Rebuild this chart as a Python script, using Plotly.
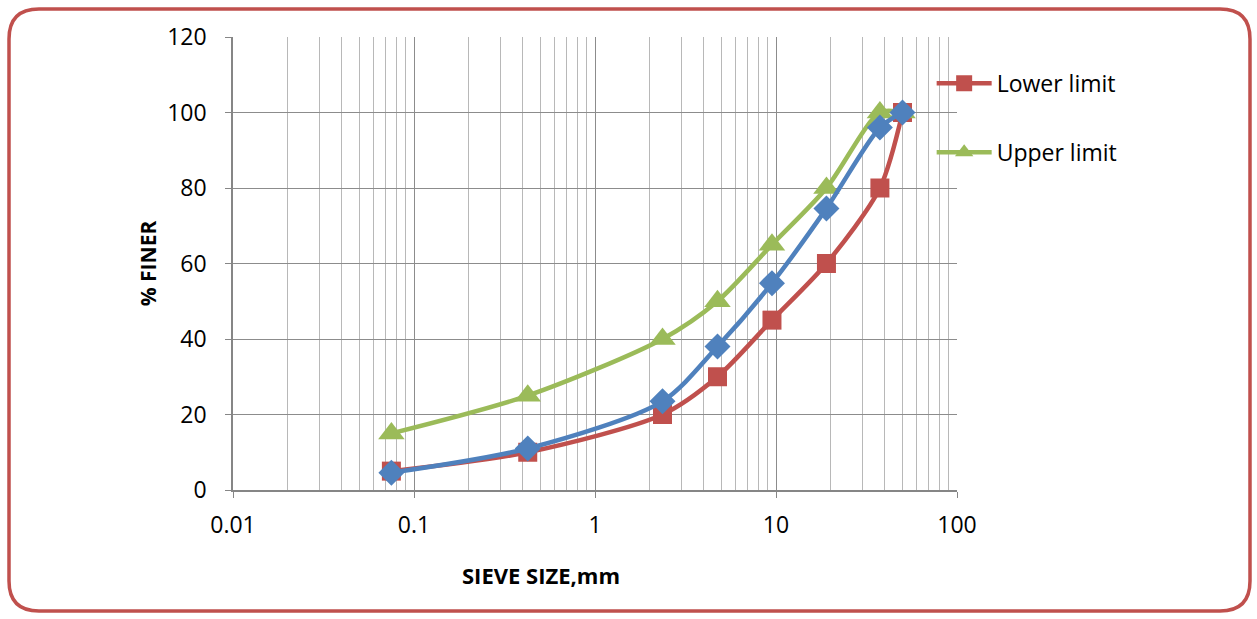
import plotly.graph_objects as go

# Sieve analysis: grading envelope and measured curve
sieve_mm = [0.075, 0.425, 2.36, 4.75, 9.5, 19, 37.5, 50]
lower_limit = [5, 10, 20, 30, 45, 60, 80, 100]
upper_limit = [15, 25, 40, 50, 65, 80, 100, 100]
sample = [4.6, 11, 23.5, 38, 54.8, 74.6, 96, 100]

x_tickvals = [0.01, 0.1, 1, 10, 100]
x_ticktext = ["0.01", "0.1", "1", "10", "100"]
y_tickvals = [0, 20, 40, 60, 80, 100, 120]

RED = "#C0504D"
GREEN = "#9BBB59"
BLUE = "#4F81BD"
FONT = "Open Sans"

W, H = 1257, 619
L, R, T, B = 233, 957, 37, 490  # plot area in pixels

fig = go.Figure()
fig.add_trace(go.Scatter(
    x=sieve_mm, y=lower_limit, name="Lower limit", mode="lines+markers",
    line=dict(color=RED, width=4.5, shape="spline", smoothing=0.8),
    marker=dict(symbol="square", size=19, color=RED),
    legendgroup="a",
))
fig.add_trace(go.Scatter(
    x=sieve_mm, y=upper_limit, name="Upper limit", mode="lines+markers",
    line=dict(color=GREEN, width=4.5, shape="spline", smoothing=0.8),
    marker=dict(symbol="triangle-up", size=23, color=GREEN),
    legendgroup="b",
))
fig.add_trace(go.Scatter(
    x=sieve_mm, y=sample, name="Sample", mode="lines+markers",
    line=dict(color=BLUE, width=4.5, shape="spline", smoothing=0.8),
    marker=dict(symbol="diamond", size=20, color=BLUE),
    showlegend=False,
))

# Rounded outer frame drawn in paper coordinates
def px(xp):
    return (xp - L) / (R - L)

def py(yp):
    return (B - yp) / (B - T)

x0, x1, y0, y1, rad = 9, 1250, 9, 611, 30
path = (
    f"M {px(x0 + rad)},{py(y0)} L {px(x1 - rad)},{py(y0)} "
    f"Q {px(x1)},{py(y0)} {px(x1)},{py(y0 + rad)} "
    f"L {px(x1)},{py(y1 - rad)} "
    f"Q {px(x1)},{py(y1)} {px(x1 - rad)},{py(y1)} "
    f"L {px(x0 + rad)},{py(y1)} "
    f"Q {px(x0)},{py(y1)} {px(x0)},{py(y1 - rad)} "
    f"L {px(x0)},{py(y0 + rad)} "
    f"Q {px(x0)},{py(y0)} {px(x0 + rad)},{py(y0)} Z"
)
fig.add_shape(type="path", path=path, xref="paper", yref="paper",
              line=dict(color=RED, width=3.5), layer="above")

# Horizontal axis title
fig.add_annotation(
    text="<b>SIEVE SIZE,mm</b>", xref="paper", yref="paper",
    x=px(541), y=py(575), xanchor="center", yanchor="middle",
    showarrow=False, font=dict(family=FONT, size=22, color="black"),
)

fig.update_layout(
    width=W, height=H,
    margin=dict(l=L, r=W - R, t=T, b=H - B),
    paper_bgcolor="white", plot_bgcolor="white",
    font=dict(family=FONT, size=23, color="black"),
    legend=dict(
        x=0.965, y=0.945, xanchor="left", yanchor="top",
        font=dict(family=FONT, size=23),
        traceorder="grouped", tracegroupgap=36,
        itemwidth=55, bgcolor="rgba(0,0,0,0)",
    ),
    xaxis=dict(
        type="log", range=[-2, 2],
        tickvals=x_tickvals, ticktext=x_ticktext,
        showgrid=True, gridcolor="#8C8C8C", gridwidth=1.2,
        minor=dict(dtick="D1", showgrid=True, gridcolor="#B8B8B8", gridwidth=1.2,
                   ticks=""),
        showline=True, linecolor="#868686", linewidth=1.5,
        ticks="outside", ticklen=6, tickcolor="#868686",
        ticklabelstandoff=8,
        zeroline=False,
    ),
    yaxis=dict(
        range=[0, 120], tickvals=y_tickvals,
        showgrid=True, gridcolor="#8C8C8C", gridwidth=1.2,
        showline=True, linecolor="#868686", linewidth=1.5,
        ticks="outside", ticklen=6, tickcolor="#868686",
        ticklabelstandoff=14,
        zeroline=False,
        title=dict(text="<b>% FINER</b>", font=dict(family=FONT, size=21),
                   standoff=5),
    ),
)

fig.write_html("out.html")
